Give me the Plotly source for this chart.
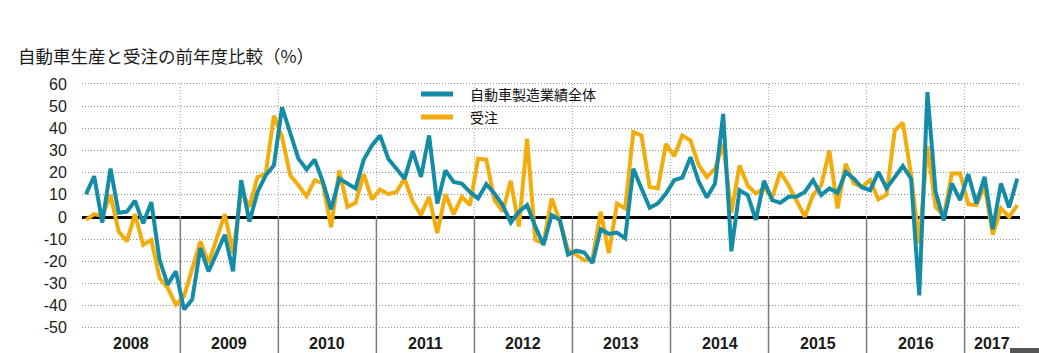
import numpy as np
import plotly.graph_objects as go

# ---------------- data ----------------
title_text = "自動車生産と受注の前年度比較（%）"
series_names = ["自動車製造業績全体", "受注"]
years = ["2008", "2009", "2010", "2011", "2012", "2013", "2014", "2015", "2016", "2017"]
y_ticks = [60, 50, 40, 30, 20, 10, 0, -10, -20, -30, -40, -50]

# monthly, Jan 2008 .. Jul 2017
production = [
    10.3, 18.4, -2.5, 21.8, 1.9, 2.4, 7.3, -2.8, 6.7, -19.3, -30.5, -24.5,
    -41.7, -37.2, -14.0, -24.5, -16.3, -8.0, -24.5, 16.6, -2.1, 11.3, 18.8, 23.3,
    49.5, 38.0, 26.3, 21.4, 25.9, 15.8, 3.4, 17.3, 15.1, 12.9, 25.9, 32.3,
    36.8, 26.3, 21.8, 17.3, 29.7, 18.1, 36.8, 6.1, 21.0, 15.8, 15.1, 11.3,
    8.4, 14.8, 10.6, 5.4, -2.5, 2.4, 5.4, -4.3, -12.6, 0.9, -1.3, -17.0,
    -15.2, -16.0, -20.8, -5.5, -7.6, -7.0, -9.6, 21.8, 12.9, 4.2, 6.1, 10.6,
    16.6, 17.8, 27.0, 16.0, 8.8, 15.1, 46.5, -15.5, 12.1, 9.9, -1.3, 16.3,
    7.6, 6.4, 9.1, 9.2, 11.3, 16.6, 9.9, 12.9, 10.9, 20.3, 17.3, 13.3,
    12.1, 20.3, 13.0, 18.1, 23.0, 17.3, -35.4, 56.3, 11.4, -1.5, 15.1, 7.6,
    19.3, 6.1, 18.1, -5.5, 15.1, 4.3, 17.3,
]
orders = [
    -1.3, 1.3, 0.5, 9.9, -6.6, -11.0, 1.3, -12.6, -10.3, -27.5, -32.0, -39.5,
    -35.7, -23.8, -11.0, -20.8, -10.0, 1.3, -16.3, 12.0, 4.6, 18.0, 19.5, 45.7,
    36.0, 18.8, 14.3, 9.4, 16.6, 15.1, -4.6, 21.0, 4.6, 6.4, 19.3, 7.9,
    12.4, 10.3, 11.3, 17.3, 6.9, 0.9, 9.1, -7.3, 10.3, 1.3, 9.1, 5.4,
    26.3, 25.9, 7.6, 2.4, 16.3, -4.3, 35.3, -10.3, -11.8, 8.4, -2.0, -14.8,
    -17.0, -19.6, -19.0, 2.4, -16.3, 6.1, 3.9, 38.3, 36.8, 13.6, 12.9, 33.0,
    27.4, 36.8, 34.5, 23.5, 18.0, 21.8, 33.0, 2.0, 23.2, 14.3, 10.6, 13.0,
    9.0, 20.3, 14.3, 7.6, 0.1, 9.9, 14.3, 30.0, 3.9, 24.0, 15.1, 13.6,
    16.6, 7.9, 10.0, 39.0, 42.5, 19.0, -12.0, 32.0, 4.6, 0.5, 19.6, 19.6,
    5.8, 5.4, 14.0, -8.0, 3.9, 0.1, 5.4,
]

# ---------------- geometry ----------------
W, H = 1039, 353
L, R, T, B = 82, 19, 78, 0
plot_w = W - L - R
plot_h = H - T - B
x0_px = 86.0          # pixel of first month
px_month = 8.169
zero_px = 217.0
px_unit = 2.217

x_range = [(L - x0_px) / px_month, (W - R - x0_px) / px_month]
y_range = [(zero_px - (H - B)) / px_unit, (zero_px - T) / px_unit]


def px_x(p):
    return (p - L) / plot_w


def px_y(p):
    return (H - B - p) / plot_h


months = np.arange(len(production))
BLUE = "#148ca7"
ORANGE = "#f2ac0c"

fig = go.Figure()
fig.add_trace(go.Scatter(x=months, y=orders, mode="lines", name=series_names[1],
                         line=dict(color=ORANGE, width=4), showlegend=False))
fig.add_trace(go.Scatter(x=months, y=production, mode="lines", name=series_names[0],
                         line=dict(color=BLUE, width=4), showlegend=False))

shapes = []
# white legend background patches (above grid, below traces)
for (a, b, c, d) in [(458, 697, 78, 100), (458, 620, 100, 113), (417, 528, 113, 132)]:
    shapes.append(dict(type="rect", xref="paper", yref="paper",
                       x0=px_x(a), x1=px_x(b), y0=px_y(d), y1=px_y(c),
                       fillcolor="white", line=dict(width=0), layer="between"))

# year boundaries
bounds = [12 * k - 0.45 for k in range(1, len(years))]
for bx in bounds:
    shapes.append(dict(type="line", xref="x", yref="y", x0=bx, x1=bx, y0=0, y1=60,
                       line=dict(color="#a8a8a8", width=1, dash="1px,2px"), layer="between"))
    shapes.append(dict(type="line", xref="x", yref="y", x0=bx, x1=bx, y0=0, y1=y_range[0],
                       line=dict(color="#7a7a7a", width=1.5), layer="between"))

# legend samples
for yy, col in [(94, BLUE), (117, ORANGE)]:
    shapes.append(dict(type="line", xref="paper", yref="paper",
                       x0=px_x(421), x1=px_x(453), y0=px_y(yy), y1=px_y(yy),
                       line=dict(color=col, width=5), layer="above"))

# small dark bar at bottom right
shapes.append(dict(type="rect", xref="paper", yref="paper",
                   x0=px_x(1010), x1=px_x(1039), y0=px_y(353), y1=px_y(348),
                   fillcolor="#555555", line=dict(width=0), layer="above"))

annotations = [
    dict(text=title_text, xref="paper", yref="paper", x=px_x(16), y=px_y(56),
         xanchor="left", yanchor="middle", showarrow=False,
         font=dict(family="Noto Sans CJK JP", size=17.5, color="#1a1a1a")),
]
for yy, name in [(94, series_names[0]), (117, series_names[1])]:
    annotations.append(dict(text=name, xref="paper", yref="paper", x=px_x(468), y=px_y(yy),
                            xanchor="left", yanchor="middle", showarrow=False,
                            font=dict(family="Noto Sans CJK JP", size=14, color="#111111")))

edges = [-0.45] + bounds + [x_range[1]]
for i, yr in enumerate(years):
    lo = edges[i]
    hi = edges[i + 1]
    annotations.append(dict(text="<b>%s</b>" % yr, xref="x", yref="y",
                            x=(lo + hi) / 2, y=(zero_px - 343) / px_unit,
                            xanchor="center", yanchor="middle", showarrow=False,
                            font=dict(family="Liberation Sans, Arial", size=16, color="#1a1a1a")))

fig.update_layout(
    width=W, height=H,
    margin=dict(l=L, r=R, t=T, b=B, pad=0),
    paper_bgcolor="white", plot_bgcolor="white",
    shapes=shapes, annotations=annotations,
    showlegend=False,
    xaxis=dict(range=x_range, showgrid=False, zeroline=False, showticklabels=False,
               showline=False, ticks="", fixedrange=True),
    yaxis=dict(range=y_range, tickvals=y_ticks, ticktext=[str(v) for v in y_ticks],
               showgrid=True, gridcolor="#8c8c8c", gridwidth=1, griddash="1px,2px",
               zeroline=True, zerolinecolor="#000000", zerolinewidth=3,
               showline=False, ticks="outside", ticklen=11, tickcolor="rgba(0,0,0,0)",
               tickfont=dict(family="Liberation Sans, Arial", size=16, color="#222222"),
               fixedrange=True),
)

fig.write_html("out.html")
